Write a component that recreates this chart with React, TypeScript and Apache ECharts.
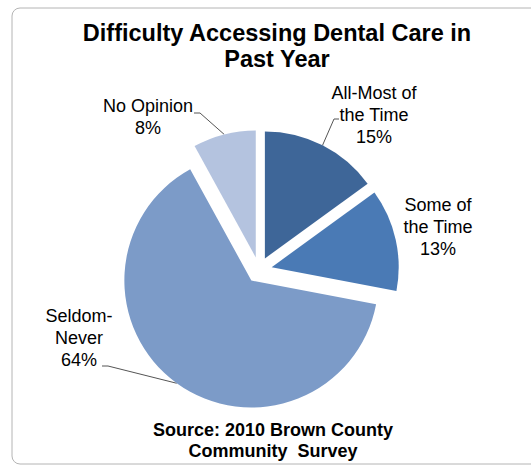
import React, { useEffect, useRef } from 'react';
import * as echarts from 'echarts';

const categories = ['All-Most of the Time', 'Some of the Time', 'Seldom-Never', 'No Opinion'];
const labelTexts = ['All-Most of\nthe Time', 'Some of\nthe Time', 'Seldom-\nNever', 'No Opinion'];
const values = [15, 13, 64, 8];
const colors = ['#3E6698', '#4A7AB5', '#7C9BC8', '#B4C3DF'];
const titleText = 'Difficulty Accessing Dental Care in\nPast Year';
const sourceText = 'Source: 2010 Brown County\nCommunity  Survey';

// layout only
const CX = 259;
const CY = 270;
const R = 127;
const EXPLODE = 13;
const labelPlace = [
  { x: 374, y: 115, line: [[334, 119], [339, 119]] },
  { x: 438, y: 227, line: null },
  { x: 79, y: 338, line: [[108, 366], [102, 366]] },
  { x: 148, y: 117, line: [[200, 113], [194, 113]] },
];

const FONT = 'Arial, "Liberation Sans", sans-serif';

export default function App() {
  const ref = useRef<HTMLDivElement>(null);
  useEffect(() => {
    if (!ref.current) return;
    const chart = echarts.init(ref.current, undefined, { renderer: 'svg' });
    const total = values.reduce((a, b) => a + b, 0);
    let cum = 0;
    const series = values.map((v, i) => {
      const mid = ((cum + v / 2) / total) * Math.PI * 2;
      cum += v;
      const dx = Math.sin(mid) * EXPLODE;
      const dy = -Math.cos(mid) * EXPLODE;
      return {
        type: 'pie',
        name: categories[i],
        center: [CX + dx, CY + dy],
        radius: R,
        startAngle: 90,
        clockwise: true,
        avoidLabelOverlap: false,
        emphasis: { disabled: true },
        silent: true,
        label: {
          show: true,
          position: 'outside',
          fontFamily: FONT,
          fontSize: 18,
          lineHeight: 22,
          color: '#000',
          align: 'center',
          formatter: (p: any) => labelTexts[p.dataIndex] + '\n' + Math.round(p.percent) + '%',
        },
        labelLine: { show: true, length: 10, length2: 6, lineStyle: { color: '#555', width: 1 } },
        labelLayout: (p: any) => {
          const lp = labelPlace[p.dataIndex];
          const out: any = { x: lp.x, y: lp.y, align: 'center', verticalAlign: 'middle' };
          if (lp.line && p.labelLinePoints) {
            out.labelLinePoints = [p.labelLinePoints[0], lp.line[0], lp.line[1]];
          }
          return out;
        },
        data: categories.map((c, j) => ({
          name: c,
          value: values[j],
          itemStyle: { color: j === i ? colors[j] : 'rgba(0,0,0,0)' },
          label: { show: j === i },
          labelLine: { show: j === i && j !== 1 },
        })),
      };
    });
    chart.setOption({
      animation: false,
      backgroundColor: '#ffffff',
      title: {
        text: titleText,
        left: 272,
        top: 15,
        textAlign: 'center',
        textStyle: { fontFamily: FONT, fontWeight: 'bold', fontSize: 23.5, lineHeight: 26, color: '#000' },
      },
      graphic: [
        {
          type: 'rect',
          shape: { x: 12, y: 8, width: 540, height: 456, r: 8 },
          style: { fill: 'none', stroke: '#b4b4b4', lineWidth: 1 },
          silent: true,
        },
        {
          type: 'text',
          x: 273,
          y: 440,
          style: {
            text: sourceText,
            font: `bold 18px ${FONT}`,
            fill: '#000',
            align: 'center',
            verticalAlign: 'middle',
            lineHeight: 21,
          },
        },
      ],
      series,
    });
    return () => chart.dispose();
  }, []);
  return <div ref={ref} style={{ position: 'fixed', left: 0, top: 0, width: 531, height: 468 }} />;
}
